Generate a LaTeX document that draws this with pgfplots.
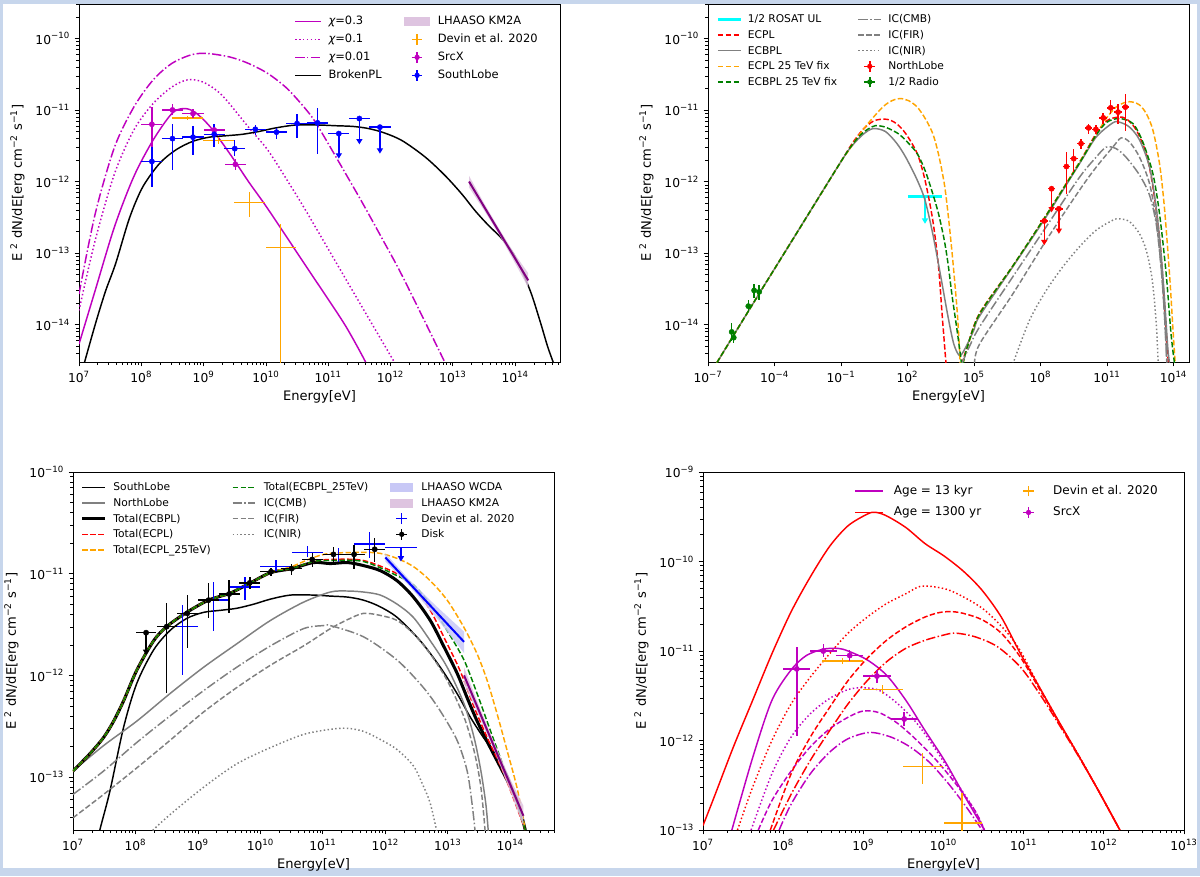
\documentclass[border=0pt]{standalone}
\usepackage{fontspec}
\setmainfont{DejaVu Sans}
\usepackage{pgfplots}
\pgfplotsset{compat=1.18}
\usepackage{pgfplotstable}
\usetikzlibrary{arrows.meta}

\definecolor{mpm}{rgb}{0.75,0,0.75}
\definecolor{mpo}{RGB}{255,165,0}
\definecolor{mpg}{RGB}{0,128,0}
\definecolor{mpgr}{RGB}{128,128,128}
\definecolor{mpc}{RGB}{0,255,255}
\definecolor{kmfill}{RGB}{222,196,224}
\definecolor{wcfill}{RGB}{200,200,246}
\definecolor{mpp}{RGB}{128,0,128}
\definecolor{bgb}{RGB}{199,214,236}

\newlength\lgl
\setlength\lgl{17pt}

\newcommand\mkminor[5]{%
  \gdef#1{}%
  \foreach \d in {#2,...,#3}{%
    \foreach \m in {0.30103,0.47712,0.60206,0.69897,0.77815,0.84510,0.90309,0.95424}{%
      \pgfmathsetmacro\vv{\d+\m}%
      \pgfmathtruncatemacro\ok{and(\vv>=#4,\vv<=#5)}%
      \ifnum\ok=1 \xdef#1{\ifx#1\empty\else#1,\fi\vv}\fi
    }%
  }%
}
\mkminor\mxA{7}{14}{7}{14.72}
\mkminor\myA{-15}{-10}{-14.52}{-9.52}
\mkminor\myC{-14}{-11}{-13.52}{-10}
\mkminor\mxD{7}{12}{7}{13}
\mkminor\myD{-13}{-10}{-13}{-9}
\newcommand\tl[1]{10\textsuperscript{#1}}

\tikzset{
  dsh/.style={dash pattern=on 4.1pt off 1.8pt},
  dt/.style={dash pattern=on 1.1pt off 1.8pt},
  dd/.style={dash pattern=on 7pt off 1.8pt on 1.1pt off 1.8pt},
}

% legend helpers: fixed-size image cells, drawing as overlay
\newcommand\LL[2]{\addlegendimage{legend image code/.code={\path[draw=none,fill=none] (0pt,-1.5pt) rectangle (\lgl,1.5pt);
   \draw[overlay, line width=1.1pt, #1] (0pt,0pt) -- (\lgl,0pt);}}\addlegendentry{#2}}
\newcommand\LP[2]{\addlegendimage{legend image code/.code={\path[draw=none,fill=none] (0pt,-1.5pt) rectangle (\lgl,1.5pt);
   \fill[overlay, draw=none, #1] (0pt,-3.3pt) rectangle (\lgl,3.3pt);}}\addlegendentry{#2}}
\newcommand\LE[2]{\addlegendimage{legend image code/.code={\path[draw=none,fill=none] (0pt,-1.5pt) rectangle (\lgl,1.5pt);
   \draw[overlay, line width=1.1pt, #1] (0.5\lgl,-4pt) -- (0.5\lgl,4pt) (0.5\lgl-4pt,0pt) -- (0.5\lgl+4pt,0pt);}}\addlegendentry{#2}}
\newcommand\LEM[2]{\addlegendimage{legend image code/.code={\path[draw=none,fill=none] (0pt,-1.5pt) rectangle (\lgl,1.5pt);
   \draw[overlay, line width=1.1pt, #1] (0.5\lgl,-4pt) -- (0.5\lgl,4pt) (0.5\lgl-4pt,0pt) -- (0.5\lgl+4pt,0pt);
   \fill[overlay, draw=none, #1] (0.5\lgl,0pt) circle (2pt);}}\addlegendentry{#2}}

\pgfplotsset{
  sed/.style={
    scale only axis, width=360.75pt, height=268.5pt,
    axis line style={line width=0.6pt},
    tick align=outside, tick pos=left,
    major tick length=3.3pt, minor tick length=1.9pt,
    major tick style={line width=0.6pt, black},
    minor tick style={line width=0.45pt, black},
    ticklabel style={font=\fontsize{9.2}{11}\selectfont},
    label style={font=\fontsize{9.8}{12}\selectfont},
    xlabel={Energy[eV]},
    ylabel={E \textsuperscript{2} dN/dE[erg cm\textsuperscript{−2} s\textsuperscript{−1}]},
    xlabel style={at={(axis description cs:0.5,-0.098)}, anchor=center},
    ylabel style={at={(axis description cs:-0.128,0.5)}, anchor=center},
    legend cell align=left,
    every axis plot/.append style={line width=1.1pt},
  },
  table/tbl/.style={x=x,y=y,x error plus=xp,x error minus=xm,y error plus=yp,y error minus=ym},
  pts/.style={only marks, mark=*, mark size=2pt, mark options={solid, line width=0.3pt}, forget plot,
    error bars/.cd, x dir=both, x explicit, y dir=both, y explicit, error mark=none,
    error bar style={line width=1.1pt, solid}, /pgfplots/.cd},
  ptsn/.style={only marks, mark=*, mark size=0pt, mark options={draw=none, fill=none}, forget plot,
    error bars/.cd, x dir=both, x explicit, y dir=both, y explicit, error mark=none,
    error bar style={line width=1.1pt, solid}, /pgfplots/.cd},
  ul/.style={line width=1.1pt, -{Triangle[width=4.5pt,length=4pt]}, forget plot},
  crv/.style={smooth, tension=0.5, forget plot},
  lgs/.style n args={6}{legend style={at={(axis description cs:#1,#2)}, anchor=north west, draw=none, fill=none,
    inner sep=0pt, font=\fontsize{#3}{10}\selectfont, row sep=#4, column sep=#5,
    /tikz/every even column/.append style={column sep=#6},
    nodes={inner sep=0pt, text height=0.75em, text depth=0.25em}}},
}

\pgfplotstableread{
x y xm xp ym yp
8.17 -11.20 0.17 0.16 0.75 0.24
8.50 -11.00 0.16 0.17 0.07 0.08
8.83 -11.05 0.17 0.17 0.06 0.06
9.17 -11.28 0.17 0.17 0.08 0.07
9.51 -11.76 0.17 0.17 0.08 0.08
}\srcx
\pgfplotstableread{
x y xm xp ym yp
8.74 -11.11 0.25 0.25 0.03 0.03
9.24 -11.43 0.25 0.25 0.05 0.05
9.74 -12.29 0.25 0.25 0.20 0.15
10.23 -12.92 0.23 0.25 2.00 0.33
}\devinA
\pgfplotstableread{
x y xm xp ym yp
8.17 -11.72 0.17 0.16 0.35 0.20
8.50 -11.40 0.16 0.17 0.44 0.21
8.83 -11.38 0.17 0.17 0.25 0.15
9.17 -11.34 0.17 0.17 0.18 0.14
9.50 -11.54 0.17 0.17 0.10 0.12
9.83 -11.27 0.17 0.17 0.08 0.06
10.17 -11.31 0.17 0.17 0.09 0.06
10.50 -11.19 0.17 0.17 0.20 0.13
10.83 -11.18 0.17 0.17 0.43 0.21
11.17 -11.33 0.17 0.17 0 0
11.50 -11.12 0.17 0.17 0 0
11.83 -11.24 0.17 0.17 0 0
}\south
\pgfplotstableread{
x y xm xp ym yp
8.17 -12.55 0.17 0.16 0 0
8.50 -12.10 0.16 0.17 0 0
8.83 -12.38 0.17 0.17 0 0
9.17 -11.79 0.17 0.17 0.38 0.20
9.50 -11.68 0.17 0.17 0.19 0.14
9.83 -11.47 0.17 0.17 0.07 0.07
10.17 -11.25 0.17 0.17 0.08 0.06
10.50 -11.27 0.17 0.17 0.06 0.06
10.83 -11.11 0.17 0.17 0.08 0.07
11.17 -10.97 0.17 0.17 0.09 0.11
11.50 -11.03 0.17 0.17 0.16 0.12
11.83 -10.96 0.17 0.17 0.33 0.18
}\north
\pgfplotstableread{
x y xm xp ym yp
-5.93 -14.10 0 0 0.12 0.12
-5.84 -14.18 0 0 0.08 0.08
-5.18 -13.74 0 0 0.08 0.08
-4.92 -13.52 0 0 0.11 0.09
-4.69 -13.54 0 0 0.12 0.09
}\radio
\pgfplotstableread{
x y xm xp ym yp
8.17 -11.58 0.16 0.16 0 0
8.50 -11.52 0.16 0.17 0.65 0.23
8.83 -11.39 0.17 0.17 0.34 0.18
9.17 -11.26 0.17 0.17 0.18 0.17
9.50 -11.20 0.17 0.17 0.19 0.14
9.83 -11.09 0.17 0.17 0.06 0.06
10.17 -10.98 0.17 0.17 0.04 0.04
10.50 -10.95 0.17 0.17 0.06 0.05
10.83 -10.86 0.17 0.17 0.07 0.06
11.17 -10.81 0.17 0.17 0.07 0.07
11.50 -10.81 0.17 0.17 0.14 0.09
11.83 -10.76 0.17 0.17 0.12 0.11
}\disk
\pgfplotstableread{
x y xm xp ym yp
8.75 -11.52 0.25 0.25 0.48 0.21
9.25 -11.26 0.25 0.25 0.30 0.18
9.75 -11.13 0.25 0.25 0.13 0.10
10.25 -10.93 0.25 0.25 0.05 0.06
10.75 -10.79 0.25 0.25 0.05 0.06
11.25 -10.81 0.25 0.25 0.07 0.06
11.75 -10.71 0.25 0.25 0.14 0.12
12.25 -10.74 0.25 0.25 0 0
}\devinC
\pgfplotstableread{
x y
7.09 -14.52
7.2 -14.18
7.3 -13.88
7.43 -13.52
7.59 -13.14
7.81 -12.51
8.02 -12.08
8.29 -11.75
8.55 -11.56
8.82 -11.44
9.09 -11.38
9.36 -11.36
9.62 -11.34
9.89 -11.30
10.16 -11.25
10.48 -11.21
10.85 -11.21
11.12 -11.22
11.4 -11.23
11.65 -11.26
11.9 -11.32
12.19 -11.43
12.56 -11.66
12.88 -11.92
13.15 -12.18
13.36 -12.41
13.57 -12.61
13.79 -12.80
14.0 -13.05
14.24 -13.52
14.4 -13.95
14.52 -14.3
14.61 -14.52
}\bpl

\begin{document}
\begin{tikzpicture}
\useasboundingbox (0,0) rectangle (900pt,-657pt);
\fill[bgb] (0,0) rectangle (900pt,-657pt);
\fill[white] (2.25pt,-3pt) rectangle (897.75pt,-651pt);

%% ---------------- Panel 1
\setlength\lgl{19pt}
\begin{axis}[sed, at={(59.25pt,-3pt)}, anchor=north west,
  xmin=7, xmax=14.72, ymin=-14.52, ymax=-9.52,
  xtick={7,...,14}, xticklabels={\tl{7},\tl{8},\tl{9},\tl{10},\tl{11},\tl{12},\tl{13},\tl{14}},
  ytick={-14,...,-10}, yticklabels={\tl{−14},\tl{−13},\tl{−12},\tl{−11},\tl{−10}},
  minor xtick/.expanded={\mxA}, minor ytick/.expanded={\myA},
  legend columns=2, lgs={0.449}{0.971}{8.6}{3.5pt}{6pt}{17pt},
]
\LL{mpm}{{\itshape χ}=0.3}
\LP{kmfill}{LHAASO KM2A}
\LL{mpm, dt}{{\itshape χ}=0.1}
\LE{mpo}{Devin et al. 2020}
\LL{mpm, dd}{{\itshape χ}=0.01}
\LEM{mpm}{SrcX}
\LL{black}{BrokenPL}
\LEM{blue}{SouthLobe}

\addplot[mpm, crv] coordinates {(7.0,-14.27)(7.26,-13.52)(7.57,-12.63)(7.88,-11.93)(8.19,-11.42)(8.49,-11.05)(8.68,-10.98)(8.86,-11.03)(9.11,-11.24)(9.42,-11.61)(9.72,-12.00)(10.03,-12.38)(10.65,-13.19)(11.26,-13.99)(11.60,-14.52)};
\addplot[mpm, dt, crv] coordinates {(7.0,-13.80)(7.26,-12.82)(7.57,-11.89)(7.88,-11.28)(8.19,-10.91)(8.49,-10.68)(8.74,-10.58)(8.99,-10.61)(9.29,-10.79)(9.72,-11.24)(10.03,-11.56)(10.34,-11.98)(10.65,-12.42)(11.26,-13.33)(12.06,-14.52)};
\addplot[mpm, dd, crv] coordinates {(7.0,-13.57)(7.26,-12.45)(7.57,-11.52)(7.88,-10.96)(8.19,-10.58)(8.49,-10.35)(8.80,-10.23)(9.05,-10.21)(9.42,-10.26)(9.72,-10.35)(10.03,-10.49)(10.34,-10.70)(10.65,-11.00)(10.83,-11.22)(11.26,-11.86)(11.57,-12.33)(11.88,-12.82)(12.19,-13.32)(12.87,-14.52)};
\addplot[black, crv] table[x=x,y=y] {\bpl};
\addplot[draw=none, fill=kmfill, fill opacity=0.85, forget plot] coordinates {(13.26,-11.92)(13.5,-12.30)(13.75,-12.67)(14.0,-13.02)(14.21,-13.28)(14.21,-13.48)(14.0,-13.14)(13.75,-12.75)(13.5,-12.40)(13.26,-12.08)} -- cycle;
\addplot[mpp, line width=1.5pt, forget plot] coordinates {(13.26,-12.0)(14.21,-13.38)};
\addplot[mpo, ptsn] table[tbl] {\devinA};
\addplot[mpm, pts] table[tbl] {\srcx};
\addplot[blue, pts] table[tbl] {\south};
\addplot[blue, ul] coordinates {(11.17,-11.33)(11.17,-11.68)};
\addplot[blue, ul] coordinates {(11.50,-11.12)(11.50,-11.48)};
\addplot[blue, ul] coordinates {(11.83,-11.24)(11.83,-11.61)};
\end{axis}

%% ---------------- Panel 2
\setlength\lgl{17pt}
\begin{axis}[sed, at={(531pt,-3pt)}, anchor=north west,
  xmin=-7, xmax=14.7, ymin=-14.52, ymax=-9.52,
  xtick={-7,-4,-1,2,5,8,11,14}, xticklabels={\tl{−7},\tl{−4},\tl{−1},\tl{2},\tl{5},\tl{8},\tl{11},\tl{14}},
  ytick={-14,...,-10}, yticklabels={\tl{−14},\tl{−13},\tl{−12},\tl{−11},\tl{−10}},
  minor ytick/.expanded={\myA},
  legend columns=2, lgs={0.02}{0.976}{8}{1.7pt}{5.5pt}{16pt},
]
\LL{mpc, line width=2pt}{1/2 ROSAT UL}
\LL{mpgr, dd}{IC(CMB)}
\LL{red, dsh}{ECPL}
\LL{mpgr, dsh}{IC(FIR)}
\LL{mpgr}{ECBPL}
\LL{mpgr, dt}{IC(NIR)}
\LL{mpo, dsh}{ECPL 25 TeV fix}
\LEM{red}{NorthLobe}
\LL{mpg, dsh}{ECBPL 25 TeV fix}
\LEM{mpg}{1/2 Radio}

\addplot[mpc, line width=2pt, forget plot] coordinates {(2.03,-12.21)(3.57,-12.21)};
\addplot[mpc, ul] coordinates {(2.79,-12.21)(2.79,-12.59)};
\addplot[red, dsh, crv] coordinates {(-6.6,-14.53)(-5,-13.72)(-3,-12.72)(-1.0,-11.72)(-0.5,-11.47)(0.0,-11.27)(0.5,-11.15)(1.06,-11.13)(1.5,-11.19)(1.92,-11.33)(2.44,-11.61)(2.79,-11.98)(3.14,-12.54)(3.40,-13.19)(3.57,-13.89)(3.74,-14.55)};
\addplot[red, dsh, crv] coordinates {(4.45,-14.55)(4.7,-14.30)(5.25,-13.84)(6.75,-13.18)(8.26,-12.47)(9.76,-11.73)(10.51,-11.33)(11.0,-11.15)(11.49,-11.10)(11.86,-11.12)(12.32,-11.28)(12.77,-11.61)(13.07,-12.07)(13.37,-12.77)(13.52,-13.38)(13.67,-14.08)(13.77,-14.55)};
\addplot[mpgr, crv] coordinates {(-6.6,-14.53)(-5,-13.72)(-3,-12.72)(-1.0,-11.72)(-0.5,-11.50)(0.0,-11.34)(0.45,-11.26)(1.0,-11.30)(1.5,-11.46)(1.92,-11.66)(2.44,-11.98)(2.79,-12.26)(3.14,-12.73)(3.48,-13.29)(3.83,-13.89)(4.09,-14.27)(4.35,-14.43)(4.6,-14.33)(5.0,-14.07)(5.25,-13.88)(6.75,-13.19)(8.26,-12.49)(9.76,-11.75)(10.51,-11.38)(11.26,-11.18)(11.56,-11.17)(12.02,-11.24)(12.47,-11.42)(12.92,-11.80)(13.22,-12.36)(13.44,-13.01)(13.59,-13.61)(13.74,-14.31)(13.82,-14.53)};
\addplot[mpo, dsh, crv] coordinates {(-6.6,-14.53)(-5,-13.72)(-3,-12.72)(-1.0,-11.72)(-0.68,-11.58)(-0.3,-11.40)(0.19,-11.20)(0.88,-10.96)(1.30,-10.87)(1.66,-10.84)(2.05,-10.87)(2.44,-10.96)(2.80,-11.12)(3.14,-11.33)(3.40,-11.62)(3.66,-12.03)(3.83,-12.45)(4.0,-12.96)(4.13,-13.40)(4.26,-13.89)(4.38,-14.55)};
\addplot[mpo, dsh, crv] coordinates {(4.5,-14.55)(4.7,-14.32)(5.25,-13.85)(6.75,-13.18)(8.26,-12.47)(9.76,-11.73)(10.51,-11.35)(10.96,-11.12)(11.41,-10.96)(11.86,-10.89)(12.17,-10.89)(12.47,-10.93)(12.77,-11.05)(13.07,-11.28)(13.37,-11.75)(13.59,-12.36)(13.82,-13.29)(13.98,-14.08)(14.08,-14.55)};
\addplot[mpg, dsh, crv] coordinates {(-6.6,-14.53)(-5,-13.72)(-3,-12.72)(-1.0,-11.72)(-0.5,-11.49)(-0.16,-11.36)(0.2,-11.27)(0.54,-11.22)(1.0,-11.24)(1.58,-11.33)(2.0,-11.45)(2.44,-11.61)(2.8,-11.85)(3.14,-12.17)(3.40,-12.45)(3.66,-12.82)(3.83,-13.15)(4.0,-13.57)(4.13,-13.85)(4.26,-14.13)(4.44,-14.55)};
\addplot[mpg, dsh, crv] coordinates {(4.5,-14.55)(4.7,-14.31)(5.25,-13.85)(6.75,-13.18)(8.26,-12.47)(9.76,-11.74)(10.51,-11.35)(11.0,-11.17)(11.56,-11.12)(12.17,-11.19)(12.62,-11.45)(13.07,-11.89)(13.37,-12.45)(13.67,-13.29)(13.89,-14.13)(14.05,-14.55)};
\addplot[mpgr, dd, crv] coordinates {(4.44,-14.55)(4.8,-14.3)(5.25,-14.03)(6.75,-13.33)(8.26,-12.63)(9.76,-11.94)(10.51,-11.66)(10.96,-11.52)(11.41,-11.54)(11.86,-11.66)(12.47,-11.91)(12.92,-12.19)(13.22,-12.59)(13.44,-13.19)(13.59,-13.85)(13.70,-14.55)};
\addplot[mpgr, dsh, crv] coordinates {(5.02,-14.55)(5.25,-14.27)(6.75,-13.57)(8.26,-12.82)(9.76,-12.12)(10.51,-11.80)(11.26,-11.52)(11.64,-11.39)(12.02,-11.45)(12.47,-11.66)(12.92,-12.03)(13.22,-12.54)(13.44,-13.19)(13.59,-13.85)(13.71,-14.55)};
\addplot[mpgr, dt, crv] coordinates {(6.75,-14.55)(7.50,-13.94)(8.26,-13.52)(9.01,-13.19)(9.76,-12.91)(10.51,-12.68)(11.26,-12.54)(11.56,-12.52)(12.02,-12.56)(12.47,-12.73)(12.77,-12.96)(13.0,-13.29)(13.14,-13.66)(13.25,-14.13)(13.31,-14.55)};
\addplot[red, pts] table[tbl] {\north};
\addplot[red, ul] coordinates {(8.17,-12.55)(8.17,-12.89)};
\addplot[red, ul] coordinates {(8.50,-12.10)(8.50,-12.43)};
\addplot[red, ul] coordinates {(8.83,-12.38)(8.83,-12.73)};
\addplot[mpg, mark size=1.6pt, pts] table[tbl] {\radio};
\end{axis}

%% ---------------- Panel 3
\setlength\lgl{17pt}
\begin{axis}[sed, at={(54.75pt,-354pt)}, anchor=north west,
  xmin=7, xmax=14.7, ymin=-13.52, ymax=-10,
  xtick={7,...,14}, xticklabels={\tl{7},\tl{8},\tl{9},\tl{10},\tl{11},\tl{12},\tl{13},\tl{14}},
  ytick={-13,...,-10}, yticklabels={\tl{−13},\tl{−12},\tl{−11},\tl{−10}},
  minor xtick/.expanded={\mxA}, minor ytick/.expanded={\myC},
  legend columns=3, lgs={0.019}{0.976}{8}{1.7pt}{6.3pt}{16.5pt},
]
\LL{black}{SouthLobe}
\LL{mpg, dsh}{Total(ECBPL\_25TeV)}
\LP{wcfill}{LHAASO WCDA}
\LL{mpgr}{NorthLobe}
\LL{mpgr, dd}{IC(CMB)}
\LP{kmfill}{LHAASO KM2A}
\LL{black, line width=2.3pt}{Total(ECBPL)}
\LL{mpgr, dsh}{IC(FIR)}
\LE{blue}{Devin et al. 2020}
\LL{red, dsh}{Total(ECPL)}
\LL{mpgr, dt}{IC(NIR)}
\LEM{black}{Disk}
\LL{mpo, dsh}{Total(ECPL\_25TeV)}

\addplot[black, crv] table[x=x,y=y] {\bpl};
\addplot[mpgr, crv] coordinates {(7.0,-12.94)(7.49,-12.69)(8.02,-12.45)(8.55,-12.18)(9.09,-11.92)(9.62,-11.69)(10.16,-11.46)(10.69,-11.28)(11.12,-11.18)(11.39,-11.17)(11.65,-11.18)(11.92,-11.21)(12.19,-11.30)(12.45,-11.43)(12.72,-11.66)(12.99,-11.92)(13.26,-12.28)(13.42,-12.61)(13.53,-12.94)(13.61,-13.27)(13.65,-13.55)};
\addplot[black, line width=2.3pt, crv] coordinates {(7.0,-12.94)(7.27,-12.77)(7.49,-12.61)(7.65,-12.45)(7.81,-12.25)(8.02,-11.95)(8.29,-11.66)(8.50,-11.52)(8.82,-11.38)(9.17,-11.26)(9.52,-11.19)(9.84,-11.09)(10.16,-10.99)(10.50,-10.95)(10.85,-10.89)(11.12,-10.90)(11.39,-10.89)(11.65,-10.92)(11.92,-10.97)(12.19,-11.07)(12.45,-11.23)(12.72,-11.46)(12.94,-11.72)(13.15,-11.98)(13.31,-12.22)(13.47,-12.45)(13.68,-12.71)(13.90,-12.97)(14.11,-13.23)(14.24,-13.52)};
\addplot[red, dsh, crv] coordinates {(7.0,-12.94)(7.27,-12.77)(7.49,-12.61)(7.65,-12.45)(7.81,-12.25)(8.02,-11.95)(8.29,-11.66)(8.50,-11.52)(8.82,-11.38)(9.17,-11.26)(9.52,-11.19)(9.84,-11.09)(10.16,-10.99)(10.50,-10.95)(10.85,-10.88)(11.12,-10.86)(11.65,-10.87)(12.19,-11.0)(12.45,-11.13)(12.72,-11.36)(12.99,-11.69)(13.15,-11.89)(13.26,-12.05)(13.42,-12.31)(13.63,-12.61)(13.90,-12.97)(14.24,-13.52)};
\addplot[mpo, dsh, crv] coordinates {(7.0,-12.94)(7.27,-12.77)(7.49,-12.61)(7.65,-12.45)(7.81,-12.25)(8.02,-11.95)(8.29,-11.66)(8.50,-11.52)(8.82,-11.38)(9.17,-11.26)(9.52,-11.19)(9.84,-11.09)(10.16,-10.99)(10.50,-10.93)(10.85,-10.84)(11.12,-10.80)(11.65,-10.79)(11.92,-10.80)(12.19,-10.85)(12.45,-10.93)(12.72,-11.07)(12.99,-11.26)(13.26,-11.53)(13.47,-11.79)(13.63,-12.05)(13.79,-12.38)(13.95,-12.74)(14.11,-13.11)(14.24,-13.52)};
\addplot[mpg, dsh, crv] coordinates {(7.0,-12.94)(7.27,-12.77)(7.49,-12.61)(7.65,-12.45)(7.81,-12.25)(8.02,-11.95)(8.29,-11.66)(8.50,-11.52)(8.82,-11.38)(9.17,-11.26)(9.52,-11.19)(9.84,-11.09)(10.16,-10.99)(10.50,-10.95)(10.85,-10.88)(11.12,-10.87)(11.65,-10.88)(12.19,-11.02)(12.45,-11.11)(12.72,-11.30)(12.99,-11.56)(13.26,-11.85)(13.47,-12.18)(13.68,-12.54)(13.90,-12.91)(14.11,-13.27)(14.24,-13.52)};
\addplot[mpgr, dd, crv] coordinates {(7.0,-13.17)(7.49,-12.94)(8.02,-12.66)(8.55,-12.40)(9.09,-12.15)(9.62,-11.92)(10.16,-11.71)(10.69,-11.54)(11.01,-11.51)(11.12,-11.51)(11.65,-11.62)(12.19,-11.85)(12.61,-12.12)(12.88,-12.35)(13.15,-12.64)(13.31,-12.94)(13.39,-13.27)(13.44,-13.55)};
\addplot[mpgr, dsh, crv] coordinates {(7.0,-13.40)(7.49,-13.17)(8.02,-12.91)(8.55,-12.64)(9.09,-12.36)(9.62,-12.12)(10.16,-11.90)(10.69,-11.71)(11.12,-11.54)(11.40,-11.45)(11.65,-11.39)(11.92,-11.41)(12.19,-11.46)(12.45,-11.59)(12.72,-11.79)(12.99,-12.05)(13.26,-12.41)(13.42,-12.74)(13.53,-13.10)(13.60,-13.55)};
\addplot[mpgr, dt, crv] coordinates {(8.23,-13.55)(8.55,-13.37)(9.09,-13.10)(9.62,-12.87)(10.16,-12.71)(10.69,-12.58)(11.12,-12.53)(11.39,-12.52)(11.65,-12.55)(11.92,-12.63)(12.19,-12.73)(12.45,-12.89)(12.61,-13.09)(12.72,-13.26)(12.83,-13.55)};
\addplot[draw=none, fill=wcfill, fill opacity=0.85, forget plot] coordinates {(12.0,-10.80)(12.4,-11.07)(12.8,-11.31)(13.26,-11.57)(13.26,-11.78)(12.8,-11.42)(12.4,-11.13)(12.0,-10.88)} -- cycle;
\addplot[blue, line width=1.5pt, forget plot] coordinates {(12.0,-10.84)(13.26,-11.67)};
\addplot[draw=none, fill=kmfill, fill opacity=0.85, forget plot] coordinates {(13.26,-11.92)(13.5,-12.30)(13.75,-12.67)(14.0,-13.02)(14.21,-13.28)(14.21,-13.48)(14.0,-13.14)(13.75,-12.75)(13.5,-12.40)(13.26,-12.08)} -- cycle;
\addplot[mpp, line width=1.5pt, forget plot] coordinates {(13.26,-12.0)(14.21,-13.38)};
\addplot[blue, ptsn] table[tbl] {\devinC};
\addplot[blue, ul] coordinates {(12.25,-10.74)(12.25,-10.88)};
\addplot[black, pts] table[tbl] {\disk};
\addplot[black, ul] coordinates {(8.17,-11.58)(8.17,-11.80)};
\end{axis}

%% ---------------- Panel 4
\setlength\lgl{21pt}
\begin{axis}[sed, at={(527.25pt,-354pt)}, anchor=north west,
  xmin=7, xmax=13, ymin=-13, ymax=-9,
  xtick={7,...,13}, xticklabels={\tl{7},\tl{8},\tl{9},\tl{10},\tl{11},\tl{12},\tl{13}},
  ytick={-13,...,-9}, yticklabels={\tl{−13},\tl{−12},\tl{−11},\tl{−10},\tl{−9}},
  minor xtick/.expanded={\mxD}, minor ytick/.expanded={\myD},
  legend columns=2, lgs={0.316}{0.966}{9}{6pt}{8pt}{25pt},
]
\LL{mpm}{Age = 13 kyr}
\LE{mpo}{Devin et al. 2020}
\LL{red}{Age = 1300 yr}
\LEM{mpm}{SrcX}

\addplot[mpm, crv] coordinates {(7.36,-13.0)(7.62,-12.19)(7.86,-11.55)(8.10,-11.21)(8.29,-11.05)(8.50,-10.98)(8.68,-10.97)(8.81,-11.0)(9.05,-11.10)(9.29,-11.27)(9.53,-11.55)(9.77,-11.89)(10.01,-12.22)(10.25,-12.60)(10.51,-13.0)};
\addplot[mpm, dt, crv] coordinates {(7.60,-13.0)(7.86,-12.37)(8.10,-11.96)(8.34,-11.70)(8.58,-11.53)(8.81,-11.43)(9.0,-11.41)(9.20,-11.44)(9.43,-11.59)(9.67,-11.81)(9.91,-12.11)(10.15,-12.45)(10.39,-12.78)(10.51,-13.0)};
\addplot[mpm, dsh, crv] coordinates {(7.69,-13.0)(7.86,-12.67)(8.10,-12.34)(8.34,-12.07)(8.58,-11.87)(8.81,-11.74)(9.0,-11.67)(9.20,-11.69)(9.43,-11.81)(9.67,-12.0)(9.91,-12.22)(10.15,-12.48)(10.39,-12.78)(10.51,-13.0)};
\addplot[mpm, dd, crv] coordinates {(7.95,-13.0)(8.10,-12.71)(8.34,-12.37)(8.58,-12.13)(8.81,-11.98)(9.08,-11.91)(9.34,-11.96)(9.58,-12.07)(9.82,-12.24)(10.06,-12.48)(10.29,-12.75)(10.48,-13.0)};
\addplot[red, crv] coordinates {(7.0,-12.95)(7.14,-12.63)(7.38,-12.07)(7.62,-11.55)(7.86,-11.03)(8.10,-10.56)(8.34,-10.17)(8.58,-9.83)(8.81,-9.60)(9.05,-9.47)(9.15,-9.45)(9.29,-9.49)(9.53,-9.62)(9.77,-9.80)(10.01,-9.94)(10.25,-10.11)(10.48,-10.32)(10.72,-10.62)(10.96,-11.03)(11.20,-11.41)(11.44,-11.79)(11.68,-12.16)(11.92,-12.54)(12.20,-13.0)};
\addplot[red, dt, crv] coordinates {(7.43,-13.0)(7.62,-12.52)(7.86,-12.0)(8.10,-11.59)(8.34,-11.29)(8.58,-11.03)(8.81,-10.80)(9.05,-10.62)(9.29,-10.47)(9.53,-10.36)(9.70,-10.28)(9.86,-10.28)(10.10,-10.33)(10.48,-10.52)(10.77,-10.77)(10.96,-11.0)(11.20,-11.41)(11.44,-11.79)(11.68,-12.16)(11.92,-12.54)(12.20,-13.0)};
\addplot[red, dsh, crv] coordinates {(7.84,-13.0)(8.10,-12.37)(8.34,-11.96)(8.58,-11.63)(8.81,-11.33)(9.05,-11.08)(9.29,-10.88)(9.53,-10.73)(9.77,-10.62)(9.95,-10.57)(10.1,-10.56)(10.25,-10.58)(10.48,-10.65)(10.72,-10.80)(10.96,-11.07)(11.20,-11.43)(11.44,-11.80)(11.68,-12.16)(11.92,-12.54)(12.20,-13.0)};
\addplot[red, dd, crv] coordinates {(7.88,-13.0)(8.10,-12.6)(8.34,-12.22)(8.58,-11.89)(8.81,-11.59)(9.05,-11.33)(9.29,-11.12)(9.53,-10.97)(9.77,-10.88)(10.01,-10.82)(10.15,-10.80)(10.39,-10.84)(10.67,-10.95)(10.96,-11.18)(11.20,-11.48)(11.44,-11.82)(11.68,-12.17)(11.92,-12.54)(12.20,-13.0)};
\addplot[mpo, ptsn] table[tbl] {\devinA};
\addplot[mpm, pts] table[tbl] {\srcx};
\end{axis}
\end{tikzpicture}
\end{document}
